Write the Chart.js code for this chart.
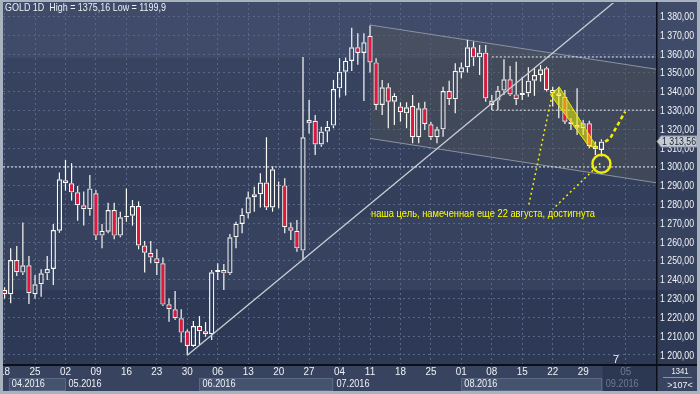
<!DOCTYPE html>
<html>
<head>
<meta charset="utf-8">
<script src="https://cdn.jsdelivr.net/npm/chart.js@4.4.0/dist/chart.umd.min.js"></script>
<style>
  html, body { margin: 0; padding: 0; background: #a9b2bf; }
  #wrap { width: 700px; height: 394px; }
</style>
</head>
<body>
<div id="wrap"><canvas id="gold" width="700" height="394"></canvas></div>
<script>
// daily candles, 18.04.2016 .. 01.09.2016 (index = trading day)
var opens = [1234.6,1232.3,1250.5,1243.8,1247.7,1232.3,1237.6,1243.4,1245.7,1266.1,
  1292.9,1291.3,1286.5,1279.6,1277.5,1286.0,1263.5,1265.6,1277.1,1263.5,
  1273.2,1274.1,1279.2,1258.2,1254.4,1251.4,1248.8,1227.0,1224.3,1219.5,
  1212.6,1204.8,1215.4,1212.6,1211.0,1244.0,1245.2,1243.4,1262.6,1269.7,
  1275.3,1283.9,1285.5,1291.7,1278.5,1290.0,1290.2,1267.9,1266.1,1255.5,
  1323.2,1324.6,1312.0,1318.8,1322.0,1341.8,1350.7,1356.4,1363.6,1360.6,
  1369.7,1355.6,1333.0,1342.4,1334.7,1332.1,1328.5,1332.4,1315.8,1331.2,
  1322.7,1315.8,1320.0,1340.4,1336.0,1350.2,1353.0,1363.7,1358.3,1360.8,
  1333.0,1335.3,1340.6,1346.6,1338.6,1338.3,1339.2,1345.9,1348.9,1352.5,
  1340.9,1339.2,1337.4,1324.1,1322.3,1320.6,1323.2,1311.2,1309.0];
var highs = [1236.0,1256.7,1258.0,1270.4,1252.7,1242.5,1245.6,1252.7,1269.7,1297.0,
  1303.7,1302.0,1289.9,1286.9,1295.7,1287.8,1269.7,1281.0,1281.0,1276.2,
  1288.6,1282.4,1281.7,1260.6,1260.6,1256.2,1251.9,1230.1,1234.0,1224.3,
  1213.6,1218.1,1220.7,1217.5,1245.2,1248.8,1248.4,1264.4,1270.9,1278.0,
  1286.9,1289.5,1296.6,1315.8,1300.2,1292.2,1294.0,1270.4,1271.8,1358.5,
  1335.6,1327.6,1321.4,1324.5,1346.3,1357.8,1358.2,1374.0,1371.1,1371.1,
  1375.2,1357.8,1346.3,1344.5,1339.2,1334.4,1334.4,1338.3,1334.2,1334.7,
  1324.1,1321.4,1342.7,1345.9,1355.1,1355.5,1367.6,1366.7,1364.9,1364.9,
  1338.3,1343.1,1357.3,1353.7,1356.0,1348.0,1353.0,1352.5,1354.2,1353.3,
  1342.7,1342.7,1340.9,1325.9,1341.8,1325.0,1324.6,1313.5,1314.7];
var lows = [1230.0,1227.5,1242.0,1242.5,1227.1,1230.0,1231.0,1239.9,1237.2,1265.0,
  1287.4,1282.1,1271.4,1268.8,1274.1,1261.2,1256.7,1264.7,1261.5,1262.6,
  1270.9,1268.8,1256.2,1243.8,1248.8,1242.5,1226.1,1217.7,1218.6,1206.6,
  1199.9,1204.4,1205.3,1209.7,1208.0,1239.9,1234.6,1242.5,1256.7,1264.7,
  1272.7,1276.2,1278.5,1277.1,1276.2,1278.0,1264.7,1261.2,1254.9,1250.5,
  1317.8,1306.4,1310.8,1313.1,1320.6,1336.9,1338.0,1351.0,1354.3,1335.1,
  1350.3,1330.3,1327.6,1320.6,1322.3,1324.1,1320.6,1312.6,1312.6,1319.7,
  1314.4,1312.6,1316.1,1333.0,1328.5,1347.2,1350.2,1353.7,1348.9,1334.7,
  1330.3,1330.3,1338.3,1337.8,1333.0,1335.6,1337.4,1337.8,1345.4,1340.1,
  1332.1,1325.9,1322.9,1319.7,1317.0,1317.0,1309.9,1306.4,1305.5];
var closes = [1232.3,1250.5,1244.0,1247.7,1232.8,1237.6,1243.4,1245.7,1266.5,1293.4,
  1291.3,1286.5,1279.6,1277.5,1288.6,1263.5,1266.0,1277.1,1263.5,1273.2,
  1274.1,1279.2,1258.2,1254.4,1251.9,1248.8,1226.8,1224.3,1219.5,1211.9,
  1204.8,1215.4,1212.6,1211.0,1244.0,1245.2,1243.4,1262.6,1269.7,1274.5,
  1283.9,1285.5,1291.7,1278.5,1298.8,1290.4,1267.9,1266.1,1256.7,1315.8,
  1325.0,1312.0,1318.8,1321.4,1341.5,1350.7,1356.4,1363.6,1360.6,1366.3,
  1355.6,1333.0,1342.4,1334.7,1337.8,1329.1,1331.7,1315.8,1331.2,1322.9,
  1315.8,1320.0,1340.4,1336.0,1351.2,1353.0,1363.7,1358.3,1360.8,1336.5,
  1335.3,1340.6,1346.6,1338.6,1336.0,1339.5,1345.9,1348.9,1351.9,1340.9,
  1339.2,1337.8,1324.1,1322.7,1320.9,1323.2,1311.2,1309.4,1313.56];

var dayTicks  = [0, 5, 10, 15, 20, 25, 30, 35, 40, 45, 50, 55, 60, 65, 70, 75, 80, 85, 90, 95, 102];
var dayLabels = ['18','25','02','09','16','23','30','06','13','20','27','04','11','18','25','01','08','15','22','29','05'];
var monthStarts = [0.7, 10, 32, 54, 75, 98.2];
var monthLabels = ['04.2016', '05.2016', '06.2016', '07.2016', '08.2016', '09.2016'];
var priceTicks = [1200,1210,1220,1230,1240,1250,1260,1270,1280,1290,1300,1310,1320,1330,1340,1350,1360,1370,1380];
var lastPrice = 1313.56;
var lastIndex = 98;
var xMin = -0.26, xMax = 106.96;
var yMin = 1195.2, yMax = 1387.2;

// drawn studies (index, price)
var trendLine = [{x: 30, y: 1199.9}, {x: 101, y: 1390.1}];
var channelTop = [{x: 60, y: 1375.5}, {x: xMax, y: 1352.0}];
var channelBottom = [{x: 60, y: 1315.2}, {x: xMax, y: 1291.6}];
var level1300 = [{x: xMin, y: 1300}, {x: xMax, y: 1300}];
var levelHigh = [{x: 80, y: 1358.5}, {x: xMax, y: 1358.5}];
var levelLow = [{x: 80, y: 1330.2}, {x: xMax, y: 1330.2}];
var targetZone = [[89.6, 1338.6], [91.1, 1342.4], [97.4, 1309.8], [95.9, 1311.2]];
var targetCircle = [{x: 98.0, y: 1301.7}];
var projection = [{x: 98.6, y: 1313.5}, {x: 99.4, y: 1315.0}, {x: 101.9, y: 1329.5}];
var pointer1 = [{x: 89.9, y: 1338.3}, {x: 86.0, y: 1278.7}];
var pointer2 = [{x: 97.8, y: 1301.9}, {x: 90.05, y: 1277.7}];
var note = 'наша цель, намеченная еще 22 августа, достигнута';
var title = 'GOLD 1D  High = 1375,16 Low = 1199,9';

var RED = '#e3173e';
var WHITE = '#fafaf6';
var YELLOW = '#f0f000';
var FONT = '"Liberation Sans", Arial, sans-serif';

var bodies = [], upper = [], lower = [], fills = [];
for (var i = 0; i < opens.length; i++) {
  var hiBody = Math.max(opens[i], closes[i]);
  var loBody = Math.min(opens[i], closes[i]);
  bodies.push({x: i, y: [loBody, hiBody]});
  upper.push({x: i, y: [hiBody, highs[i]]});
  lower.push({x: i, y: [lows[i], loBody]});
  fills.push(closes[i] >= opens[i] ? 'rgba(0,0,0,0)' : RED);
}

function fmt(v) {
  var s = v.toFixed(2).replace('.', ',');
  return s.charAt(0) + ' ' + s.slice(1);
}

function line(data, color, width, dash, order) {
  return {type: 'line', data: data, borderColor: color, borderWidth: width,
    borderDash: dash || [], pointRadius: 0, fill: false, tension: 0, order: order};
}

var chromePlugin = {
  id: 'chrome',
  beforeDraw: function (chart) {
    var c = chart.ctx;
    c.save();
    c.fillStyle = '#36425e'; c.fillRect(0, 0, 700, 394);
    c.fillStyle = '#3f4b68'; c.fillRect(0, 0, 700, 58);
    var g = c.createLinearGradient(0, 58, 0, 217);
    g.addColorStop(0, '#38445f'); g.addColorStop(1, '#323e5a');
    c.fillStyle = g; c.fillRect(0, 58, 700, 159);
    c.fillStyle = '#36425e'; c.fillRect(0, 217, 700, 73);
    c.fillStyle = '#2e3a55'; c.fillRect(0, 290, 700, 74);
    c.restore();
  },
  afterDatasetsDraw: function (chart) {
    var c = chart.ctx, xs = chart.scales.x, ys = chart.scales.y;
    c.save();
    c.beginPath();
    targetZone.forEach(function (p, k) {
      var px = xs.getPixelForValue(p[0]), py = ys.getPixelForValue(p[1]);
      if (k === 0) c.moveTo(px, py); else c.lineTo(px, py);
    });
    c.closePath();
    c.fillStyle = 'rgba(238,238,0,0.55)';
    c.fill();
    c.strokeStyle = '#eaea00';
    c.lineWidth = 1;
    c.stroke();
    c.restore();
  },
  afterDraw: function (chart) {
    var c = chart.ctx, xs = chart.scales.x, ys = chart.scales.y, a = chart.chartArea;
    c.save();
    // bottom time axis strip
    c.fillStyle = '#38445f';
    c.fillRect(0, a.bottom, 700, 394 - a.bottom);
    var fx = xs.getPixelForValue(monthStarts[5]);
    c.fillStyle = '#2c3751';
    c.fillRect(fx, a.bottom, a.right - fx, 27);

    c.textBaseline = 'middle';
    c.font = '10px ' + FONT;
    for (var m = 0; m < monthLabels.length; m++) {
      var x0 = xs.getPixelForValue(monthStarts[m]);
      var x1 = m + 1 < monthStarts.length ? xs.getPixelForValue(monthStarts[m + 1]) : a.right;
      if (m % 2 === 0 && m < 5) {
        c.fillStyle = '#46536f';
        c.fillRect(x0, 378, x1 - x0, 13);
        c.strokeStyle = '#5b6883';
        c.lineWidth = 1;
        c.strokeRect(Math.round(x0) + 0.5, 378.5, Math.round(x1 - x0) - 1, 12);
      }
      c.fillStyle = m === 5 ? '#6e7a93' : '#eef1f5';
      c.textAlign = 'left';
      c.fillText(monthLabels[m], x0 + 3, 384.5, 33);
    }
    c.textAlign = 'center';
    for (var d = 0; d < dayTicks.length; d++) {
      c.fillStyle = dayTicks[d] > lastIndex ? '#6e7a93' : '#eef1f5';
      c.fillText(dayLabels[d], xs.getPixelForValue(dayTicks[d]), 372.5, 11);
    }

    // separators
    c.fillStyle = '#0b0f17';
    c.fillRect(0, a.bottom, 700, 2);
    c.fillRect(a.right, 0, 1.5, 391);

    // price scale
    c.font = '11px ' + FONT;
    c.textAlign = 'left';
    c.fillStyle = '#f2f4f7';
    priceTicks.forEach(function (v) {
      c.fillText(fmt(v), 660, ys.getPixelForValue(v) + 0.5, 34);
    });
    var py = ys.getPixelForValue(lastPrice);
    c.beginPath();
    c.moveTo(a.right + 1, py);
    c.lineTo(661, py - 5.5);
    c.lineTo(697, py - 5.5);
    c.lineTo(697, py + 5.5);
    c.lineTo(661, py + 5.5);
    c.closePath();
    c.fillStyle = '#c6cbd3';
    c.fill();
    c.strokeStyle = '#8993a3';
    c.stroke();
    c.fillStyle = '#1d2535';
    c.fillText(fmt(lastPrice), 662, py + 0.5, 34);

    // bottom-right counter
    c.textAlign = 'center';
    c.font = '9px ' + FONT;
    c.fillStyle = '#eef1f5';
    c.fillText('1341', 680, 371.5, 17);
    c.fillText('>107<', 680, 385.5, 26);
    c.fillStyle = '#8a95a8';
    c.fillRect(663, 377, 29, 1);

    c.font = '11px ' + FONT;
    c.fillStyle = '#eef1f5';
    c.fillText('7', 616, 359.5);

    // texts
    c.textAlign = 'left';
    c.font = '10.5px ' + FONT;
    c.fillStyle = '#eceff4';
    c.fillText(title, 5, 8.5, 161);
    c.fillStyle = '#ffff00';
    c.fillText(note, 371, 214.5, 224);

    // outer frame
    c.fillStyle = '#a9b2bf';
    c.fillRect(0, 0, 700, 2);
    c.fillRect(0, 0, 3, 394);
    c.fillRect(697, 0, 3, 394);
    c.fillRect(0, 391, 700, 3);
    c.restore();
  }
};

var barBase = {type: 'bar', grouped: false, inflateAmount: 0, borderSkipped: false};

new Chart(document.getElementById('gold'), {
  type: 'bar',
  data: {
    datasets: [
      Object.assign(line(channelTop, '#8a93a1', 1, [], 30), {fill: '+1', backgroundColor: 'rgba(85,88,84,0.38)'}),
      line(channelBottom, '#8a93a1', 1, [], 29),
      Object.assign({}, barBase, {data: upper, backgroundColor: WHITE, borderWidth: 0, barThickness: 1.2, maxBarThickness: 1.2, order: 10}),
      Object.assign({}, barBase, {data: lower, backgroundColor: WHITE, borderWidth: 0, barThickness: 1.2, maxBarThickness: 1.2, order: 10}),
      Object.assign({}, barBase, {data: bodies, backgroundColor: fills, borderColor: WHITE, borderWidth: 1.2, barThickness: 5.2, maxBarThickness: 5.2, order: 9}),
      line(trendLine, '#c9cdd4', 1.3, [], 5),
      line(level1300, '#e8ecf2', 1, [2, 2], 4),
      line(levelHigh, '#e8ecf2', 1, [2, 2], 4),
      line(levelLow, '#e8ecf2', 1, [2, 2], 4),
      line(pointer1, YELLOW, 1.5, [2, 3], 3),
      line(pointer2, YELLOW, 1.5, [2, 3], 3),
      line(projection, YELLOW, 2.5, [4, 3], 2),
      {type: 'line', data: targetCircle, showLine: false, pointRadius: 9, pointBorderWidth: 2.4,
        pointBorderColor: YELLOW, pointBackgroundColor: 'rgba(0,0,0,0)', order: 1}
    ]
  },
  options: {
    responsive: false,
    animation: false,
    devicePixelRatio: 1,
    layout: {autoPadding: false, padding: {left: 3, top: 3, right: 44, bottom: 30}},
    plugins: {legend: {display: false}, tooltip: {enabled: false}},
    scales: {
      x: {
        type: 'linear', min: xMin, max: xMax, offset: false,
        afterBuildTicks: function (s) { s.ticks = dayTicks.map(function (v) { return {value: v}; }); },
        afterFit: function (s) { s.height = 0; s.paddingLeft = 0; s.paddingRight = 0; },
        ticks: {display: false},
        grid: {color: '#58668c', drawTicks: false, offset: false},
        border: {display: false, dash: [2, 3]}
      },
      y: {
        type: 'linear', min: yMin, max: yMax,
        afterBuildTicks: function (s) { s.ticks = priceTicks.map(function (v) { return {value: v}; }); },
        afterFit: function (s) { s.width = 0; s.paddingTop = 0; s.paddingBottom = 0; },
        ticks: {display: false},
        grid: {color: '#58668c', drawTicks: false},
        border: {display: false, dash: [2, 3]}
      }
    }
  },
  plugins: [chromePlugin]
});
</script>
</body>
</html>
